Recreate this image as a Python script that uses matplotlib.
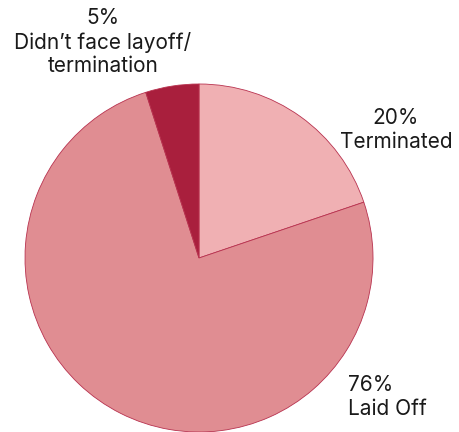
import matplotlib
matplotlib.use("Agg")
import matplotlib.pyplot as plt

plt.rcParams["font.family"] = ["Inter", "DejaVu Sans"]

# slice data, clockwise from the top
labels = ["Terminated", "Laid Off", "Didn\u2019t face layoff/\ntermination"]
shares = [20, 76, 5]
colors = ["#F0B0B3", "#E08D92", "#A91F3D"]

fig = plt.figure(figsize=(4.59, 4.32), dpi=100)
ax = fig.add_axes([0, 0, 1, 1])

# pixel-based coordinates so the pie sits where it does in the picture
ax.pie(shares, colors=colors, startangle=90, counterclock=False,
       center=(199, 174), radius=174,
       wedgeprops=dict(edgecolor="#B8324F", linewidth=0.6))

ax.set_xlim(0, 459)
ax.set_ylim(0, 432)
ax.set_aspect("equal")
ax.axis("off")

fs = 15
ax.text(103, 432 - 42, f"{shares[2]}%\n{labels[2]}", ha="center", va="center",
        fontsize=fs, color="#1a1a1a", linespacing=1.2)
ax.text(396, 432 - 130, f"{shares[0]}%\n{labels[0]}", ha="center", va="center",
        fontsize=fs, color="#1a1a1a", linespacing=1.2)
ax.text(348, 432 - 397, f"{shares[1]}%\n{labels[1]}", ha="left", va="center",
        fontsize=fs, color="#1a1a1a", linespacing=1.2)

fig.savefig("out.png", dpi=100)
